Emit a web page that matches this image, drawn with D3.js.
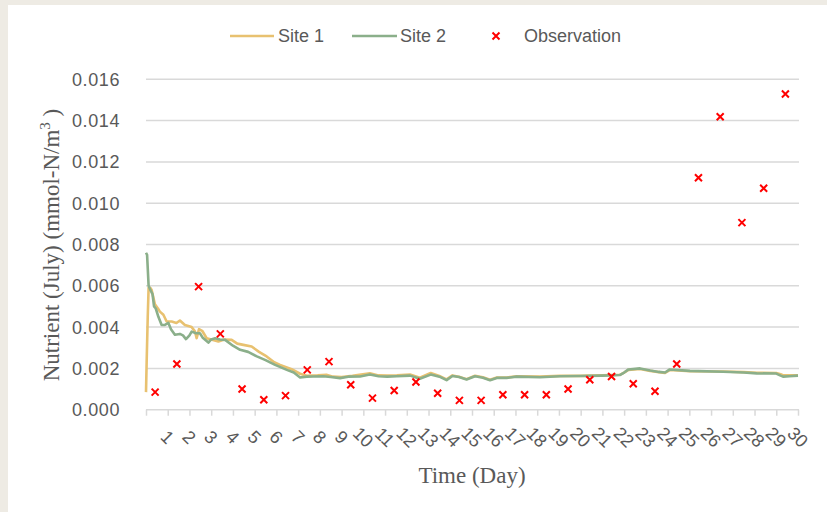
<!DOCTYPE html>
<html>
<head>
<meta charset="utf-8">
<script src="https://cdn.jsdelivr.net/npm/d3@7"></script>
<style>
  body { margin: 0; background: #eeebe4; }
  svg { display: block; }
</style>
</head>
<body>
<div id="chart-area"></div>
<script>
// dane
const site1Day = [0, 0.03, 0.08, 0.12, 0.2, 0.26, 0.41, 0.55, 0.64, 0.8, 0.95, 1.18, 1.4, 1.56, 1.79, 2.1, 2.25, 2.33, 2.44, 2.6, 2.79, 3.0, 3.33, 3.6, 3.94, 4.2, 4.48, 4.86, 5.2, 5.55, 5.9, 6.17, 6.7, 7.09, 7.4, 7.9, 8.3, 8.6, 9.0, 9.5, 10.3, 10.7, 11.1, 11.54, 12.15, 12.6, 13.1, 13.5, 13.83, 14.1, 14.4, 14.75, 15.14, 15.5, 15.83, 16.14, 16.6, 17.06, 18.13, 19.05, 20.0, 21.0, 21.8, 22.0, 22.2, 22.73, 23.2, 23.6, 23.88, 24.1, 25.03, 26.56, 27.5, 28.1, 29.0, 29.2, 29.33, 29.6, 30.0];
const site1Val = [0.00085, 0.0023, 0.0045, 0.0059, 0.0059, 0.0058, 0.0051, 0.0049, 0.00475, 0.0046, 0.00427, 0.00427, 0.0042, 0.00432, 0.0041, 0.0040, 0.0038, 0.00346, 0.0039, 0.0038, 0.00346, 0.0034, 0.0033, 0.0034, 0.00338, 0.0032, 0.00314, 0.00306, 0.0028, 0.00258, 0.0023, 0.00217, 0.00196, 0.00174, 0.00164, 0.00166, 0.00169, 0.0016, 0.00158, 0.00164, 0.00176, 0.00166, 0.00165, 0.00166, 0.0017, 0.00155, 0.00178, 0.00163, 0.00147, 0.00166, 0.0016, 0.00148, 0.00164, 0.00157, 0.00145, 0.00156, 0.00156, 0.00162, 0.0016, 0.00164, 0.00164, 0.00166, 0.00169, 0.0018, 0.00193, 0.00197, 0.00188, 0.00182, 0.00178, 0.00192, 0.00186, 0.00185, 0.00182, 0.00179, 0.00178, 0.00172, 0.00166, 0.00166, 0.00166];

const site2Day = [0, 0.05, 0.12, 0.2, 0.3, 0.37, 0.45, 0.57, 0.72, 0.85, 1.03, 1.15, 1.33, 1.56, 1.7, 1.84, 2.0, 2.1, 2.3, 2.48, 2.6, 2.87, 3.0, 3.18, 3.4, 3.64, 4.0, 4.33, 4.7, 5.1, 5.5, 5.94, 6.48, 6.8, 7.09, 7.4, 7.7, 8.16, 8.5, 8.93, 9.3, 9.85, 10.3, 10.7, 11.1, 11.54, 12.15, 12.6, 13.1, 13.5, 13.83, 14.1, 14.4, 14.75, 15.14, 15.5, 15.83, 16.14, 16.6, 17.06, 18.13, 19.05, 20.0, 21.0, 21.8, 22.0, 22.2, 22.73, 23.2, 23.6, 23.88, 24.1, 25.03, 26.56, 27.5, 28.1, 29.0, 29.2, 29.33, 29.6, 30.0];
const site2Val = [0.0076, 0.0075, 0.0060, 0.0058, 0.0056, 0.0050, 0.0049, 0.0045, 0.0041, 0.0041, 0.0042, 0.0039, 0.00363, 0.00367, 0.0036, 0.00342, 0.0036, 0.00378, 0.0037, 0.0037, 0.0035, 0.00325, 0.0034, 0.00346, 0.0034, 0.00338, 0.0031, 0.0029, 0.0028, 0.00258, 0.0024, 0.00217, 0.00193, 0.0018, 0.00156, 0.0016, 0.00161, 0.00162, 0.00158, 0.00153, 0.0016, 0.00161, 0.0017, 0.00162, 0.0016, 0.00162, 0.00165, 0.0015, 0.0017, 0.0016, 0.00143, 0.00163, 0.00158, 0.00146, 0.00162, 0.00155, 0.00143, 0.00154, 0.00154, 0.0016, 0.00157, 0.00162, 0.00163, 0.00165, 0.00168, 0.0018, 0.00195, 0.002, 0.0019, 0.00183, 0.0018, 0.00195, 0.00188, 0.00184, 0.0018, 0.00176, 0.00175, 0.00165, 0.0016, 0.00162, 0.00165];

const obsDay = [0.42, 1.42, 2.42, 3.42, 4.42, 5.42, 6.42, 7.42, 8.42, 9.42, 10.42, 11.42, 12.42, 13.42, 14.42, 15.42, 16.42, 17.42, 18.42, 19.42, 20.42, 21.42, 22.42, 23.42, 24.42, 25.42, 26.42, 27.42, 28.42, 29.42];
const obsVal = [0.00085, 0.00221, 0.00596, 0.00367, 0.0010, 0.00048, 0.00068, 0.00193, 0.00233, 0.00121, 0.00056, 0.00093, 0.00134, 0.0008, 0.00045, 0.00045, 0.00072, 0.00072, 0.00072, 0.0010, 0.00145, 0.00161, 0.00126, 0.00089, 0.00221, 0.01123, 0.01419, 0.00906, 0.01072, 0.01529];

const xTicks = [1, 2, 3, 4, 5, 6, 7, 8, 9, 10, 11, 12, 13, 14, 15, 16, 17, 18, 19, 20, 21, 22, 23, 24, 25, 26, 27, 28, 29, 30];
const yTicks = [0, 0.002, 0.004, 0.006, 0.008, 0.010, 0.012, 0.014, 0.016];

const W = 827, H = 512;
const m = { left: 146, right: 798, top: 79.3, bottom: 409.7 };
const textCol = "#595959";
const sansFont = "'Liberation Sans', Arial, sans-serif";
const serifFont = "'Liberation Serif', 'Times New Roman', serif";

let svg = d3.select("#chart-area").append("svg")
    .attr("width", W)
    .attr("height", H);

// bialy panel
svg.append("rect")
    .attr("x", 8).attr("y", 5)
    .attr("width", W - 8).attr("height", H - 5)
    .attr("fill", "#ffffff");

let x = d3.scaleLinear().domain([0, 30]).range([m.left, m.right]);
let y = d3.scaleLinear().domain([0, 0.016]).range([m.bottom, m.top]);

// siatka
svg.append("g").selectAll("line")
    .data(yTicks.slice(1))
    .enter().append("line")
    .attr("x1", m.left).attr("x2", m.right + 1)
    .attr("y1", d => y(d)).attr("y2", d => y(d))
    .attr("stroke", "#d9d9d9").attr("stroke-width", 1.5);

// os Y - etykiety
svg.append("g").selectAll("text")
    .data(yTicks)
    .enter().append("text")
    .attr("x", 120)
    .attr("y", d => y(d))
    .attr("dy", "0.36em")
    .attr("text-anchor", "end")
    .attr("font-family", sansFont)
    .attr("font-size", 18)
    .attr("letter-spacing", 0.6)
    .attr("fill", textCol)
    .text(d => d3.format(".3f")(d));

// os X
let xAxis = d3.axisBottom(x)
    .tickValues([0].concat(xTicks))
    .tickSize(6)
    .tickFormat("");
let gx = svg.append("g")
    .attr("transform", `translate(0,${m.bottom})`)
    .call(xAxis);
gx.select(".domain").attr("stroke", "#d9d9d9").attr("stroke-width", 1.5).attr("d", `M${m.left},0H${m.right + 1}`);
gx.selectAll(".tick line").attr("stroke", "#d9d9d9").attr("stroke-width", 1.5);

svg.append("g").selectAll("text")
    .data(xTicks)
    .enter().append("text")
    .attr("transform", d => `translate(${x(d)},437) rotate(45)`)
    .attr("text-anchor", "middle")
    .attr("dy", "0.36em")
    .attr("font-family", sansFont)
    .attr("font-size", 18)
    .attr("fill", textCol)
    .text(d => d);

// linie
let line = d3.line()
    .x(d => x(d[0]))
    .y(d => y(d[1]));

svg.append("path")
    .datum(d3.zip(site1Day, site1Val))
    .attr("d", line)
    .attr("fill", "none")
    .attr("stroke", "#e8c170")
    .attr("stroke-width", 2.6)
    .attr("stroke-linejoin", "round");

svg.append("path")
    .datum(d3.zip(site2Day, site2Val))
    .attr("d", line)
    .attr("fill", "none")
    .attr("stroke", "#8baf8a")
    .attr("stroke-width", 2.6)
    .attr("stroke-linejoin", "round");

// obserwacje jako krzyzyki
const cross = "M-3.5,-3.5L3.5,3.5M-3.5,3.5L3.5,-3.5";
svg.append("g").selectAll("path")
    .data(d3.zip(obsDay, obsVal))
    .enter().append("path")
    .attr("transform", d => `translate(${x(d[0])},${y(d[1])})`)
    .attr("d", cross)
    .attr("stroke", "#ff0000")
    .attr("stroke-width", 2);

// tytuly osi
svg.append("text")
    .attr("x", 472).attr("y", 483)
    .attr("text-anchor", "middle")
    .attr("font-family", serifFont)
    .attr("font-size", 23)
    .attr("fill", textCol)
    .text("Time (Day)");

let yt = svg.append("text")
    .attr("transform", "translate(59,245) rotate(-90)")
    .attr("text-anchor", "middle")
    .attr("font-family", serifFont)
    .attr("font-size", 23)
    .attr("fill", textCol);
yt.append("tspan").text("Nutrient (July) (mmol-N/m");
yt.append("tspan").attr("font-size", 15).attr("dy", -9).text("3");
yt.append("tspan").attr("dy", 9).text(" )");

// legenda
let legend = svg.append("g").attr("font-family", sansFont).attr("font-size", 18).attr("fill", textCol);
legend.append("line").attr("x1", 230).attr("x2", 274).attr("y1", 36).attr("y2", 36)
    .attr("stroke", "#e8c170").attr("stroke-width", 2.6);
legend.append("text").attr("x", 278).attr("y", 36).attr("dy", "0.36em").text("Site 1");
legend.append("line").attr("x1", 352).attr("x2", 397).attr("y1", 36).attr("y2", 36)
    .attr("stroke", "#8baf8a").attr("stroke-width", 2.6);
legend.append("text").attr("x", 400).attr("y", 36).attr("dy", "0.36em").text("Site 2");
legend.append("path").attr("transform", "translate(496,36)").attr("d", cross)
    .attr("stroke", "#ff0000").attr("stroke-width", 2);
legend.append("text").attr("x", 524).attr("y", 36).attr("dy", "0.36em").text("Observation");
</script>
</body>
</html>
